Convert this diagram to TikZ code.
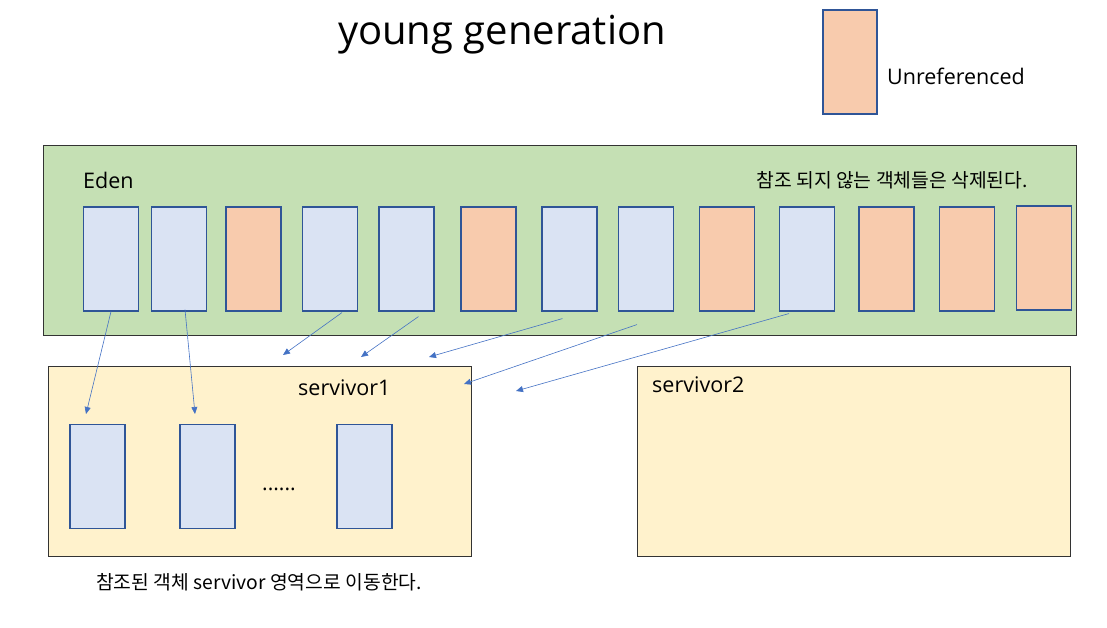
\documentclass[tikz,border=0pt]{standalone}
\usepackage{fontspec}
\setmainfont{Open Sans}
\newfontfamily\kr{Noto Sans CJK KR}
\usetikzlibrary{arrows.meta,calc}
\definecolor{edengreen}{HTML}{C5E0B4}
\definecolor{survyellow}{HTML}{FFF2CC}
\definecolor{objblue}{HTML}{DAE3F3}
\definecolor{objorange}{HTML}{F8CBAD}
\definecolor{objborder}{HTML}{2F5597}
\definecolor{arrowblue}{HTML}{4472C4}
\definecolor{frameborder}{HTML}{333333}
\tikzset{
  area/.style={draw=frameborder, line width=1pt, rectangle, inner sep=0pt},
  obj/.style={draw=objborder, line width=1.1pt, rectangle, inner sep=0pt, minimum width=55pt, minimum height=104pt},
  live/.style={obj, fill=objblue},
  dead/.style={obj, fill=objorange},
  move/.style={draw=arrowblue, line width=0.6pt, -{Triangle[length=7pt,width=6pt]}},
  lbl/.style={inner sep=0pt, text=black},
  big/.style={font=\fontsize{21.5}{26}\selectfont},
  krtxt/.style={font=\kr\fontsize{19.3}{23}\selectfont}
}
\begin{document}
\begin{tikzpicture}[x=1pt,y=-1pt]
\useasboundingbox (0,0) rectangle (1107,628);
% title
\node[lbl, font=\fontsize{40}{46}\selectfont] (title) at (502,35) {young generation};
% legend
\node[dead, minimum width=54pt] (legend) at (850,62) {};
\node[lbl, anchor=west, big] (legendtxt) at (887,76) {Unreferenced};
% eden
\node[area, fill=edengreen, minimum width=1033pt, minimum height=189pt] (eden) at (559.5,240.5) {};
\node[lbl, anchor=west, big] (edenlbl) at (83,180) {Eden};
\node[lbl, anchor=east, krtxt] (edennote) at (1028,180) {참조 되지 않는 객체들은 삭제된다.};
\node[live] (e1) at (111,259) {};
\node[live] (e2) at (179,259) {};
\node[dead] (e3) at (253.5,259) {};
\node[live] (e4) at (330,259) {};
\node[live] (e5) at (406.5,259) {};
\node[dead] (e6) at (488.5,259) {};
\node[live] (e7) at (569.5,259) {};
\node[live] (e8) at (646,259) {};
\node[dead] (e9) at (727,259) {};
\node[live] (e10) at (807,259) {};
\node[dead] (e11) at (886.5,259) {};
\node[dead] (e12) at (967,259) {};
\node[dead] (e13) at (1044,258) {};
% survivors
\node[area, fill=survyellow, minimum width=423pt, minimum height=190pt] (s1) at (259.5,461) {};
\node[lbl, anchor=west, big] (s1lbl) at (298,388) {servivor1};
\node[area, fill=survyellow, minimum width=433pt, minimum height=190pt] (s2) at (853.5,461) {};
\node[lbl, anchor=west, big] (s2lbl) at (652,385) {servivor2};
\node[live] (c1) at (97.5,476.5) {};
\node[live] (c2) at (207.5,476.5) {};
\node[live] (c3) at (364.5,476.5) {};
\node[lbl, anchor=base, font=\fontsize{21}{25}\selectfont] (dots) at (279,490) {......};
\node[lbl, krtxt] (s1note) at (259,582) {참조된 객체 servivor 영역으로 이동한다.};
% arrow end points
\coordinate (t1) at (86,414);
\coordinate (t2) at (195,414);
\coordinate (t3) at (283,355);
\coordinate (t4) at (361,357);
\coordinate (t5) at (429,357);
\coordinate (t6) at (464,384);
\coordinate (t7) at (516,391);
% arrows
\draw[move] (e1.south) -- (t1);
\draw[move] ($(e2.south)+(6,-2)$) -- (t2);
\draw[move] ($(e4.south)+(12,1)$) -- (t3);
\draw[move] ($(e5.south)+(12,5)$) -- (t4);
\draw[move] ($(e7.south)+(-7,7)$) -- (t5);
\draw[move] ($(e8.south)+(-9,13)$) -- (t6);
\draw[move] ($(e10.south)+(-18,2)$) -- (t7);
\end{tikzpicture}
\end{document}
